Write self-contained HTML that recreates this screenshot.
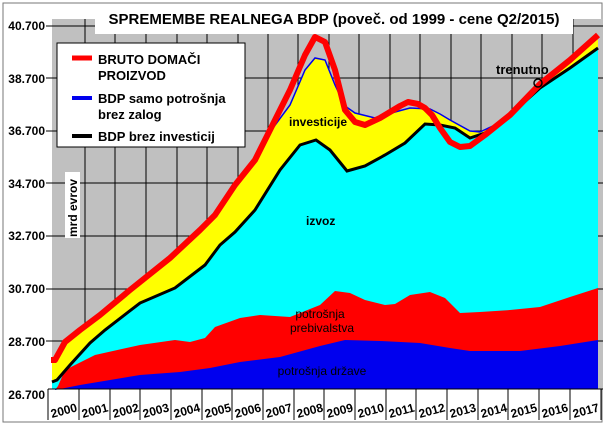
<!DOCTYPE html><html><head><style>body{margin:0;background:#fff}svg{display:block;font-family:"Liberation Sans",Arial,sans-serif}</style></head><body>
<svg width="606" height="425" viewBox="0 0 606 425">
<rect x="0" y="0" width="606" height="425" fill="#fff"/>
<rect x="3" y="3" width="599" height="419" fill="none" stroke="#777" stroke-width="1"/>
<rect x="52" y="19" width="551" height="370" fill="#c0c0c0"/>
<g stroke="#000" stroke-width="1">
<line x1="52" y1="26" x2="603" y2="26"/><line x1="52" y1="78" x2="603" y2="78"/><line x1="52" y1="131" x2="603" y2="131"/><line x1="52" y1="183" x2="603" y2="183"/><line x1="52" y1="236" x2="603" y2="236"/><line x1="52" y1="289" x2="603" y2="289"/><line x1="52" y1="341" x2="603" y2="341"/>
<line x1="85" y1="19" x2="85" y2="389"/><line x1="115" y1="19" x2="115" y2="389"/><line x1="146" y1="19" x2="146" y2="389"/><line x1="177" y1="19" x2="177" y2="389"/><line x1="207" y1="19" x2="207" y2="389"/><line x1="238" y1="19" x2="238" y2="389"/><line x1="268" y1="19" x2="268" y2="389"/><line x1="298" y1="19" x2="298" y2="389"/><line x1="329" y1="19" x2="329" y2="389"/><line x1="359" y1="19" x2="359" y2="389"/><line x1="390" y1="19" x2="390" y2="389"/><line x1="420" y1="19" x2="420" y2="389"/><line x1="451" y1="19" x2="451" y2="389"/><line x1="481" y1="19" x2="481" y2="389"/><line x1="512" y1="19" x2="512" y2="389"/><line x1="542" y1="19" x2="542" y2="389"/><line x1="573" y1="19" x2="573" y2="389"/>
</g>
<polygon fill="#ffff00" points="52,362 56,361 65,344 80,332 100,317 130,292 170,260 200,232 215,217 235,187 255,162 270,132 290,105 305,70 315,58 325,60 335,85 345,106 355,113 375,118 395,112 410,108 430,109 440,114 450,120 470,131 480,132 495,125 510,114 540,85 570,60 598,38 598,389 52,389"/>
<polygon fill="#00ffff" points="52,382 57,380 70,365 90,343 105,330 140,303 175,288 205,265 220,245 235,232 255,210 280,170 300,145 316,140 330,150 347,171 365,166 385,155 405,143 425,124 440,125 455,128 470,138 485,133 510,115 540,88 570,68 598,48 598,389 52,389"/>
<polygon fill="#ff0000" points="55,390 58,386 65,370 95,355 140,345 175,340 190,342 205,338 215,327 240,318 260,315 290,317 320,305 335,291 350,293 365,300 385,305 395,304 410,295 430,292 445,298 460,313 480,312 510,310 540,307 570,297 598,288 598,389 55,389"/>
<polygon fill="#0000ee" points="55,390 80,385 140,375 180,372 210,368 240,362 280,357 320,346 345,340 380,341 420,343 450,348 470,351 520,351 560,346 598,340 598,389 55,389"/>
<polyline fill="none" stroke="#000" stroke-width="3" points="52,382 57,380 70,365 90,343 105,330 140,303 175,288 205,265 220,245 235,232 255,210 280,170 300,145 316,140 330,150 347,171 365,166 385,155 405,143 425,124 440,125 455,128 470,138 485,133 510,115 540,88 570,68 598,48"/>
<polyline fill="none" stroke="#0000ee" stroke-width="1.5" points="52,362 56,361 65,344 80,332 100,317 130,292 170,260 200,232 215,217 235,187 255,162 270,132 290,105 305,70 315,58 325,60 335,85 345,106 355,113 375,118 395,112 410,108 430,109 440,114 450,120 470,131 480,132 495,125 510,114 540,85 570,60 598,38"/>
<polyline fill="none" stroke="#ff0000" stroke-width="6" stroke-linejoin="round" points="51,360 55,360 65,342 80,330 100,315 130,290 170,258 200,230 215,215 235,185 255,160 270,130 290,90 305,55 315,37 325,42 335,70 345,110 355,122 365,125 380,118 400,106 408,102 418,104 425,108 432,115 440,128 450,142 460,147 470,146 485,135 510,115 540,84 570,60 598,35"/>
<circle cx="538" cy="83" r="4" fill="none" stroke="#000" stroke-width="1.5"/>
<text x="496" y="74" font-size="13" font-weight="bold">trenutno</text>
<text x="289" y="126" font-size="12" font-weight="bold">investicije</text>
<text x="306" y="225" font-size="12" font-weight="bold">izvoz</text>
<text x="320" y="318" font-size="12" text-anchor="middle">potrošnja</text>
<text x="322" y="332" font-size="12" text-anchor="middle">prebivalstva</text>
<text x="322" y="375" font-size="12" text-anchor="middle">potrošnja države</text>
<rect x="95" y="4" width="478" height="30" fill="#fff"/>
<text x="334" y="24" font-size="15" font-weight="bold" text-anchor="middle">SPREMEMBE REALNEGA BDP (poveč. od 1999 - cene Q2/2015)</text>
<rect x="57" y="43" width="188" height="104" fill="#fff" stroke="#000" stroke-width="1"/>
<line x1="72" y1="58" x2="92" y2="58" stroke="#ff0000" stroke-width="5"/>
<text x="98" y="64" font-size="13" font-weight="bold">BRUTO DOMAČI</text>
<text x="98" y="80" font-size="13" font-weight="bold">PROIZVOD</text>
<line x1="72" y1="98" x2="92" y2="98" stroke="#0000ee" stroke-width="4"/>
<text x="98" y="103" font-size="13" font-weight="bold">BDP samo potrošnja</text>
<text x="98" y="119" font-size="13" font-weight="bold">brez zalog</text>
<line x1="72" y1="136" x2="92" y2="136" stroke="#000" stroke-width="4"/>
<text x="98" y="141" font-size="13" font-weight="bold">BDP brez investicij</text>
<g font-size="12" font-weight="bold" text-anchor="end">
<text x="45" y="30">40.700</text><text x="45" y="83">38.700</text><text x="45" y="135">36.700</text><text x="45" y="188">34.700</text><text x="45" y="240">32.700</text><text x="45" y="293">30.700</text><text x="45" y="346">28.700</text><text x="45" y="399">26.700</text>
</g>
<g stroke="#000"><line x1="46" y1="26" x2="52" y2="26"/><line x1="46" y1="78" x2="52" y2="78"/><line x1="46" y1="131" x2="52" y2="131"/><line x1="46" y1="183" x2="52" y2="183"/><line x1="46" y1="236" x2="52" y2="236"/><line x1="46" y1="289" x2="52" y2="289"/><line x1="46" y1="341" x2="52" y2="341"/></g>
<rect x="65" y="172" width="15" height="66" fill="#fff"/>
<text transform="translate(77,237) rotate(-90)" font-size="12" font-weight="bold">mrd evrov</text>
<line x1="48" y1="389" x2="603" y2="389" stroke="#000"/>
<g stroke="#000"><line x1="48" y1="389" x2="48" y2="420"/><line x1="79" y1="389" x2="79" y2="420"/><line x1="110" y1="389" x2="110" y2="420"/><line x1="140" y1="389" x2="140" y2="420"/><line x1="171" y1="389" x2="171" y2="420"/><line x1="202" y1="389" x2="202" y2="420"/><line x1="232" y1="389" x2="232" y2="420"/><line x1="263" y1="389" x2="263" y2="420"/><line x1="294" y1="389" x2="294" y2="420"/><line x1="324" y1="389" x2="324" y2="420"/><line x1="355" y1="389" x2="355" y2="420"/><line x1="386" y1="389" x2="386" y2="420"/><line x1="416" y1="389" x2="416" y2="420"/><line x1="447" y1="389" x2="447" y2="420"/><line x1="478" y1="389" x2="478" y2="420"/><line x1="508" y1="389" x2="508" y2="420"/><line x1="539" y1="389" x2="539" y2="420"/><line x1="570" y1="389" x2="570" y2="420"/><line x1="601" y1="389" x2="601" y2="420"/></g>
<g font-size="12" font-weight="bold">
<text transform="translate(52,418) rotate(-15)">2000</text><text transform="translate(83,418) rotate(-15)">2001</text><text transform="translate(114,418) rotate(-15)">2002</text><text transform="translate(144,418) rotate(-15)">2003</text><text transform="translate(175,418) rotate(-15)">2004</text><text transform="translate(206,418) rotate(-15)">2005</text><text transform="translate(236,418) rotate(-15)">2006</text><text transform="translate(267,418) rotate(-15)">2007</text><text transform="translate(298,418) rotate(-15)">2008</text><text transform="translate(328,418) rotate(-15)">2009</text><text transform="translate(359,418) rotate(-15)">2010</text><text transform="translate(390,418) rotate(-15)">2011</text><text transform="translate(420,418) rotate(-15)">2012</text><text transform="translate(451,418) rotate(-15)">2013</text><text transform="translate(482,418) rotate(-15)">2014</text><text transform="translate(512,418) rotate(-15)">2015</text><text transform="translate(543,418) rotate(-15)">2016</text><text transform="translate(574,418) rotate(-15)">2017</text>
</g>
</svg></body></html>
